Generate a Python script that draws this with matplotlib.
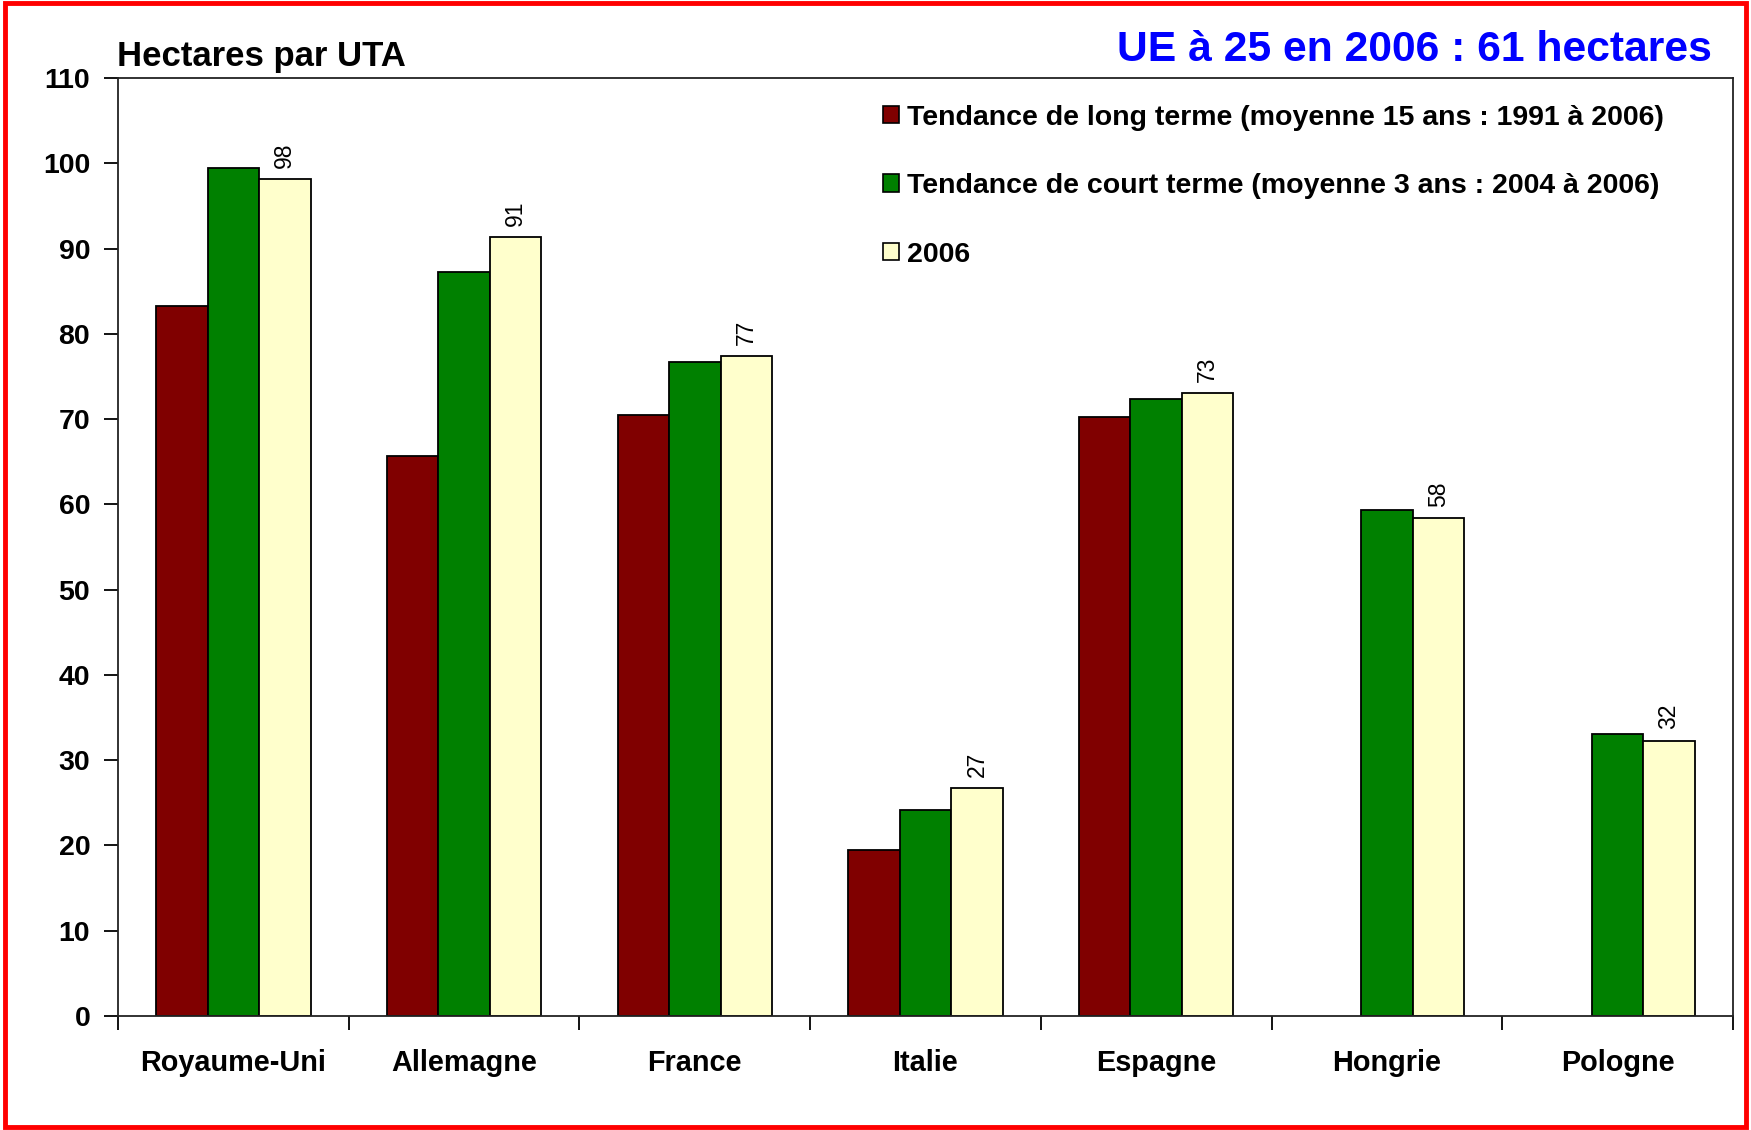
import numpy as np
import matplotlib.pyplot as plt
from matplotlib.patches import Patch, Rectangle

# Données (hectares par UTA)
pays = ["Royaume-Uni", "Allemagne", "France", "Italie", "Espagne", "Hongrie", "Pologne"]
long_terme = [83.3, 65.7, 70.5, 19.5, 70.3, np.nan, np.nan]
court_terme = [99.4, 87.3, 76.7, 24.1, 72.3, 59.3, 33.1]
annee_2006 = [98.1, 91.3, 77.4, 26.7, 73.1, 58.4, 32.3]
etiquettes_2006 = ["98", "91", "77", "27", "73", "58", "32"]
legendes = [
    "Tendance de long terme (moyenne 15 ans : 1991 à 2006)",
    "Tendance de court terme (moyenne 3 ans : 2004 à 2006)",
    "2006",
]
couleurs = ["#800000", "#008000", "#FFFFCC"]

plt.rcParams["font.family"] = ["Liberation Sans", "DejaVu Sans"]

fig = plt.figure(figsize=(17.51, 11.30), dpi=100)
ax = fig.add_axes([0.0674, 0.1009, 0.9223, 0.8301])

x = np.arange(len(pays))
w = 0.223
series = [long_terme, court_terme, annee_2006]
for i, (vals, c) in enumerate(zip(series, couleurs)):
    ax.bar(x + (i - 1) * w, vals, width=w, color=c, edgecolor="black",
           linewidth=1.3, zorder=2)

# valeurs 2006 au-dessus des barres
for xi, v, lab in zip(x, annee_2006, etiquettes_2006):
    ax.annotate(lab, (xi + w, v), xytext=(0, 8), textcoords="offset points",
                rotation=90, ha="center", va="bottom", fontsize=16.5)

ax.set_xlim(-0.5, len(pays) - 0.5)
ax.set_ylim(0, 110)
ax.set_yticks(np.arange(0, 111, 10))
ax.set_yticklabels([str(v) for v in range(0, 111, 10)], fontsize=20.5, fontweight="bold")
ax.tick_params(axis="y", length=10, width=1.3, pad=10)

ax.set_xticks(np.arange(-0.5, len(pays)), labels=[])
ax.tick_params(axis="x", which="major", length=10, width=1.3)
ax.set_xticks(x, minor=True)
ax.set_xticklabels(pays, minor=True, fontsize=20.8, fontweight="bold")
ax.tick_params(axis="x", which="minor", length=0, pad=24)

for s in ax.spines.values():
    s.set_linewidth(1.3)
    s.set_color("#222222")

handles = [Patch(facecolor=c, edgecolor="black", linewidth=1.2) for c in couleurs]
ax.legend(handles, legendes, loc="upper left", bbox_to_anchor=(0.4737, 0.9715),
          frameon=False, prop={"weight": "bold", "size": 20.5},
          handlelength=0.55, handleheight=0.55, handletextpad=0.3,
          labelspacing=1.49, borderpad=0, borderaxespad=0)

fig.text(0.0668, 0.942, "Hectares par UTA", fontsize=25, fontweight="bold",
         ha="left", va="baseline")
fig.text(0.9777, 0.956, "UE à 25 en 2006 : 61 hectares", fontsize=30.7,
         fontweight="bold", color="#0000FF", ha="right", va="center")

# cadre rouge autour de la figure
fig.patches.append(Rectangle((0.003, 0.003), 0.994, 0.994, transform=fig.transFigure,
                             fill=False, edgecolor="red", linewidth=3.5))

fig.savefig("out.png", dpi=100)
